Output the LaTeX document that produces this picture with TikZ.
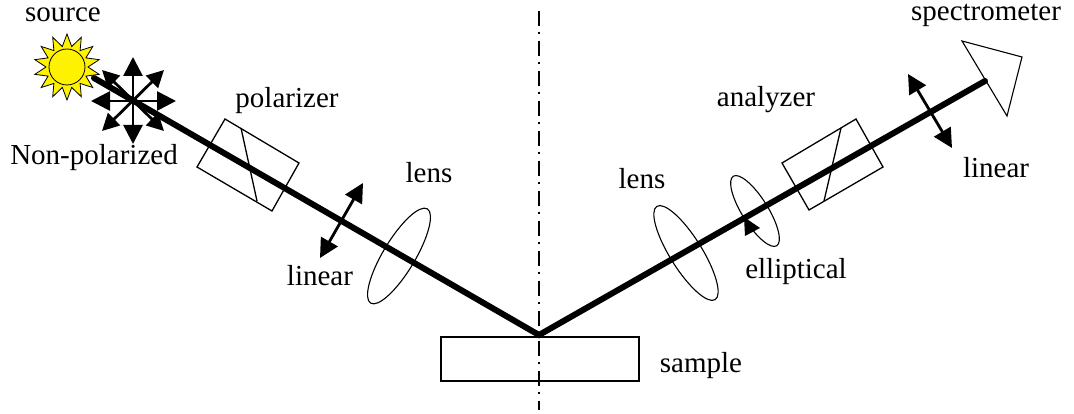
\documentclass[tikz,border=0pt]{standalone}
\usepackage{fontspec}
\setmainfont{Liberation Serif}
\usetikzlibrary{arrows.meta}
\tikzset{
 lbl/.style={inner sep=0pt,anchor=base,font=\fontsize{29}{32}\selectfont,text=black},
 beam/.style={line width=6pt,line cap=round},
 outline/.style={line width=1.3pt,line join=miter},
 thin outline/.style={line width=1.1pt},
 pol/.style={line width=2.8pt,{Triangle[length=19pt,width=19pt]}-{Triangle[length=19pt,width=19pt]}},
 poldiag/.style={line width=2.8pt,{Triangle[length=17pt,width=17pt]}-{Triangle[length=17pt,width=17pt]}},
 axisline/.style={line width=2.8pt,dash pattern=on 15pt off 6pt on 2pt off 7pt},
}
\begin{document}
\begin{tikzpicture}[x=1pt,y=-1pt]
\useasboundingbox (0,0) rectangle (1074,414);
% named points
\coordinate (start) at (94,78);
\coordinate (apex) at (539,335);
\coordinate (end) at (985,81);
\coordinate (axtop) at (539,11);
\coordinate (axbot) at (539,410);
% axis
\draw[axisline] (axtop) -- (axbot);
% sample
\draw[outline] (441,337) rectangle (639,381);
% sun
\fill[yellow,draw=black,line width=0.8pt] (67,34)
 \foreach \a in {0,1,...,13}{
  -- ({67+33*sin(\a*360/14)},{67-33*cos(\a*360/14)})
  -- ({67+21*sin((\a+0.5)*360/14)},{67-21*cos((\a+0.5)*360/14)})
 } -- cycle;
\draw[fill=yellow,line width=0.8pt] (67,67) circle (18);
% star arrows
\draw[pol] (133,57) -- (133,144);
\draw[poldiag] (102,70) -- (164,131);
\draw[pol] (91,101) -- (176,101);
\draw[poldiag] (102,131) -- (164,70);
% optics
\draw[outline] (225,119) -- (299,163) -- (272,211) -- (197,167) -- cycle;
\draw[outline] (241,128) -- (257,201);
\draw[outline] (782,163) -- (856,119) -- (883,167) -- (809,210) -- cycle;
\draw[outline] (841,128) -- (824,201);
\draw[thin outline] (962,41) -- (1022,57) -- (1007,116) -- cycle;
\draw[thin outline] (399,256) ellipse[x radius=55,y radius=16,rotate=59];
\draw[thin outline] (686,253) ellipse[x radius=55,y radius=16,rotate=-58];
\draw[thin outline] (755,211) ellipse[x radius=41,y radius=13,rotate=-58];
% beam
\draw[beam] (start) -- (apex) -- (end);
% polarisation arrows
\draw[pol] (908,74) -- (952,148);
\draw[pol] (363,183) -- (320,258);
\fill (744,217) -- (745,236) -- (760,228) -- cycle;
% labels
\node[lbl] (source) at (63,22) {source};
\node[lbl] (nonpol) at (94,165) {Non-polarized};
\node[lbl] (polarizer) at (287,108) {polarizer};
\node[lbl] (lensl) at (429,183) {lens};
\node[lbl] (linearl) at (320,285) {linear};
\node[lbl] (lensr) at (642,189) {lens};
\node[lbl] (elliptical) at (796,279) {elliptical};
\node[lbl] (analyzer) at (766,107) {analyzer};
\node[lbl] (linearr) at (996,178) {linear};
\node[lbl] (spec) at (986,21) {spectrometer};
\node[lbl] (sample) at (701,372) {sample};
\end{tikzpicture}
\end{document}
